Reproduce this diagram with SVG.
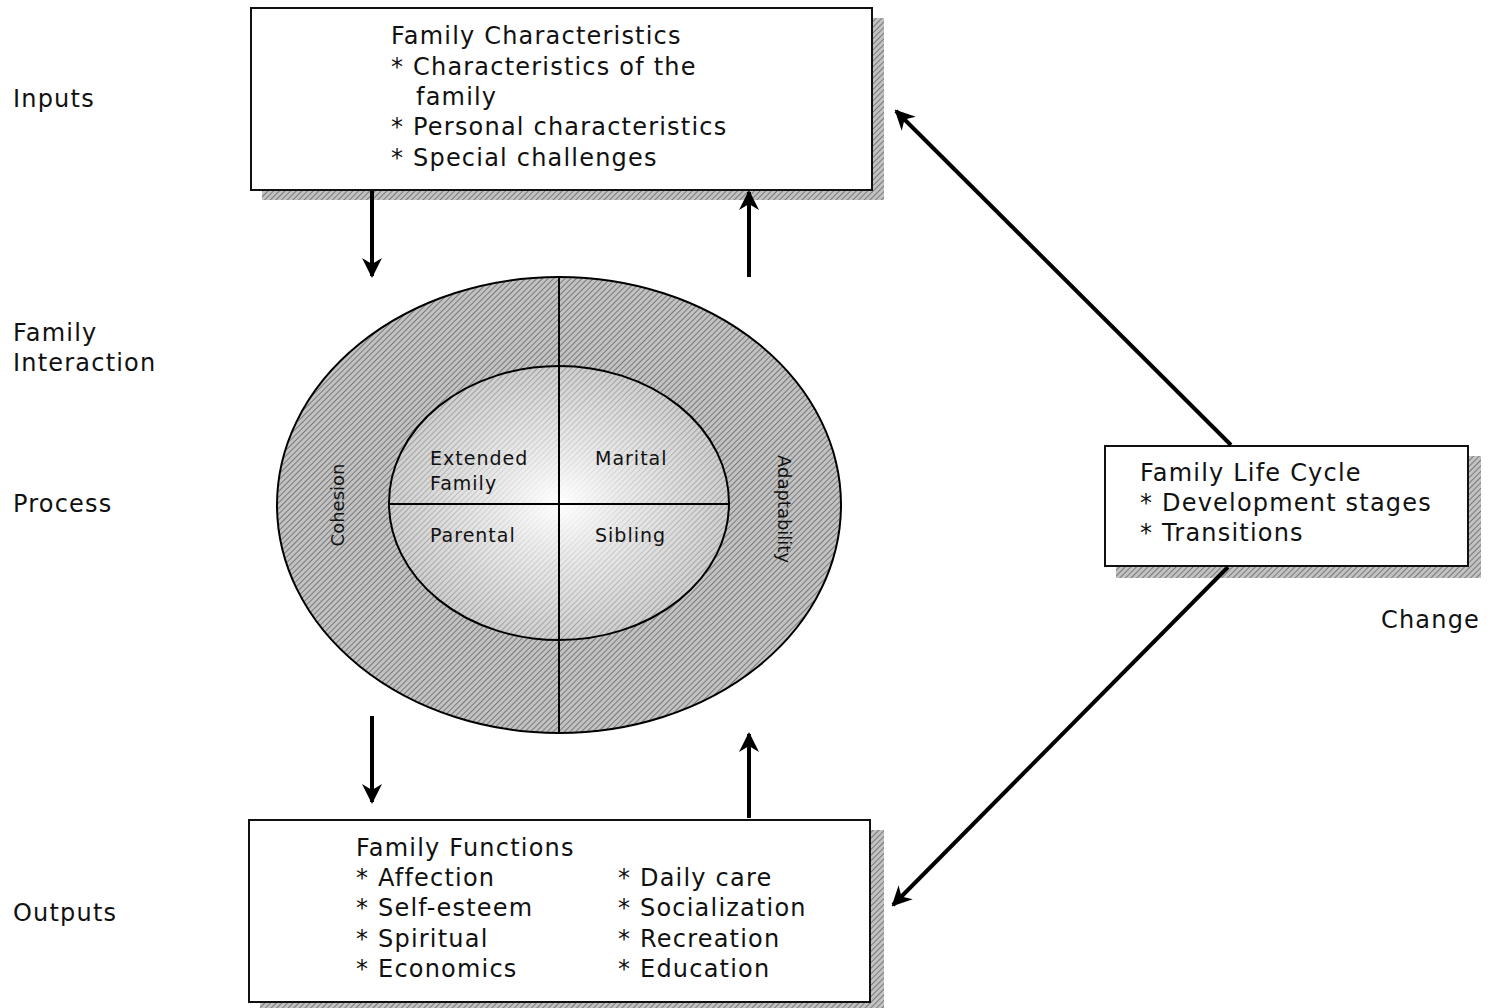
<svg xmlns="http://www.w3.org/2000/svg" width="1488" height="1008" viewBox="0 0 1488 1008">
<style>
.t{font-family:"DejaVu Sans","Open Sans",sans-serif;font-size:24px;letter-spacing:1.2px;fill:#111}
.s{font-family:"DejaVu Sans","Open Sans",sans-serif;font-size:19px;letter-spacing:1px;fill:#111}
.r{font-family:"DejaVu Sans","Open Sans",sans-serif;font-size:18px;fill:#111}
.box{fill:#fff;stroke:#111;stroke-width:2}
.conn{stroke:#000;stroke-width:4;fill:none}
.div{stroke:#000;stroke-width:2}
</style>
<defs>
<pattern id="hatch" width="4" height="4" patternUnits="userSpaceOnUse" patternTransform="rotate(45)">
<rect width="4" height="4" fill="#c2c2c2"/>
<line x1="0" y1="0" x2="0" y2="4" stroke="#5a5a5a" stroke-width="1.4"/>
</pattern>
<pattern id="hatchLight" width="4" height="4" patternUnits="userSpaceOnUse" patternTransform="rotate(45)">
<rect width="4" height="4" fill="#cfcfcf"/>
<line x1="0" y1="0" x2="0" y2="4" stroke="#7a7a7a" stroke-width="1.2"/>
</pattern>
<radialGradient id="glow" cx="0.5" cy="0.5" r="0.5">
<stop offset="0" stop-color="#fff" stop-opacity="1"/>
<stop offset="0.35" stop-color="#fff" stop-opacity="0.6"/>
<stop offset="1" stop-color="#fff" stop-opacity="0"/>
</radialGradient>
<marker id="ah" viewBox="0 0 10 10" refX="9" refY="5" markerWidth="5" markerHeight="5" orient="auto" markerUnits="strokeWidth">
<path d="M0,0 L10,5 L0,10 L3,5 Z" fill="#000"/>
</marker>
</defs>
<rect width="1488" height="1008" fill="#fff"/>

<g id="labels">
<text class="t" x="13" y="107">Inputs</text>
<text class="t" x="13" y="341">Family</text>
<text class="t" x="13" y="371">Interaction</text>
<text class="t" x="13" y="512">Process</text>
<text class="t" x="13" y="921">Outputs</text>
<text class="t" x="1381" y="628">Change</text>
</g>

<g id="inputs">
<rect x="262" y="18" width="622" height="182" fill="url(#hatch)"/>
<rect class="box" x="251" y="8" width="621" height="182"/>
<text class="t" x="391" y="44">Family Characteristics</text>
<text class="t" x="391" y="75">* Characteristics of the</text>
<text class="t" x="416" y="105">family</text>
<text class="t" x="391" y="135">* Personal characteristics</text>
<text class="t" x="391" y="166">* Special challenges</text>
</g>

<g id="process">
<ellipse cx="559" cy="505" rx="282" ry="228" fill="url(#hatch)" stroke="#000" stroke-width="2"/>
<ellipse cx="559" cy="503" rx="170" ry="137" fill="url(#hatchLight)" stroke="#000" stroke-width="2"/>
<ellipse cx="559" cy="503" rx="170" ry="137" fill="url(#glow)"/>
<line class="div" x1="559" y1="277" x2="559" y2="733"/>
<line class="div" x1="389" y1="504" x2="729" y2="504"/>
<text class="s" x="430" y="465">Extended</text>
<text class="s" x="430" y="490">Family</text>
<text class="s" x="595" y="465">Marital</text>
<text class="s" x="430" y="542">Parental</text>
<text class="s" x="595" y="542">Sibling</text>
<text class="r" transform="translate(344,505) rotate(-90)" text-anchor="middle">Cohesion</text>
<text class="r" transform="translate(778,509) rotate(90)" text-anchor="middle">Adaptability</text>
</g>

<g id="lifecycle">
<rect x="1116" y="456" width="365" height="122" fill="url(#hatch)"/>
<rect class="box" x="1105" y="446" width="363" height="120"/>
<text class="t" x="1140" y="481">Family Life Cycle</text>
<text class="t" x="1140" y="511">* Development stages</text>
<text class="t" x="1140" y="541">* Transitions</text>
</g>

<g id="outputs">
<rect x="260" y="830" width="624" height="178" fill="url(#hatch)"/>
<rect class="box" x="249" y="820" width="621" height="182"/>
<text class="t" x="356" y="856">Family Functions</text>
<text class="t" x="356" y="886">* Affection</text>
<text class="t" x="356" y="916">* Self-esteem</text>
<text class="t" x="356" y="947">* Spiritual</text>
<text class="t" x="356" y="977">* Economics</text>
<text class="t" x="618" y="886">* Daily care</text>
<text class="t" x="618" y="916">* Socialization</text>
<text class="t" x="618" y="947">* Recreation</text>
<text class="t" x="618" y="977">* Education</text>
</g>

<g id="connectors">
<line class="conn" x1="372" y1="191" x2="372" y2="276" marker-end="url(#ah)"/>
<line class="conn" x1="749" y1="277" x2="749" y2="192" marker-end="url(#ah)"/>
<line class="conn" x1="372" y1="716" x2="372" y2="802" marker-end="url(#ah)"/>
<line class="conn" x1="749" y1="818" x2="749" y2="734" marker-end="url(#ah)"/>
<line class="conn" x1="1231" y1="445" x2="896" y2="111" marker-end="url(#ah)"/>
<line class="conn" x1="1228" y1="567" x2="893" y2="905" marker-end="url(#ah)"/>
</g>
</svg>
